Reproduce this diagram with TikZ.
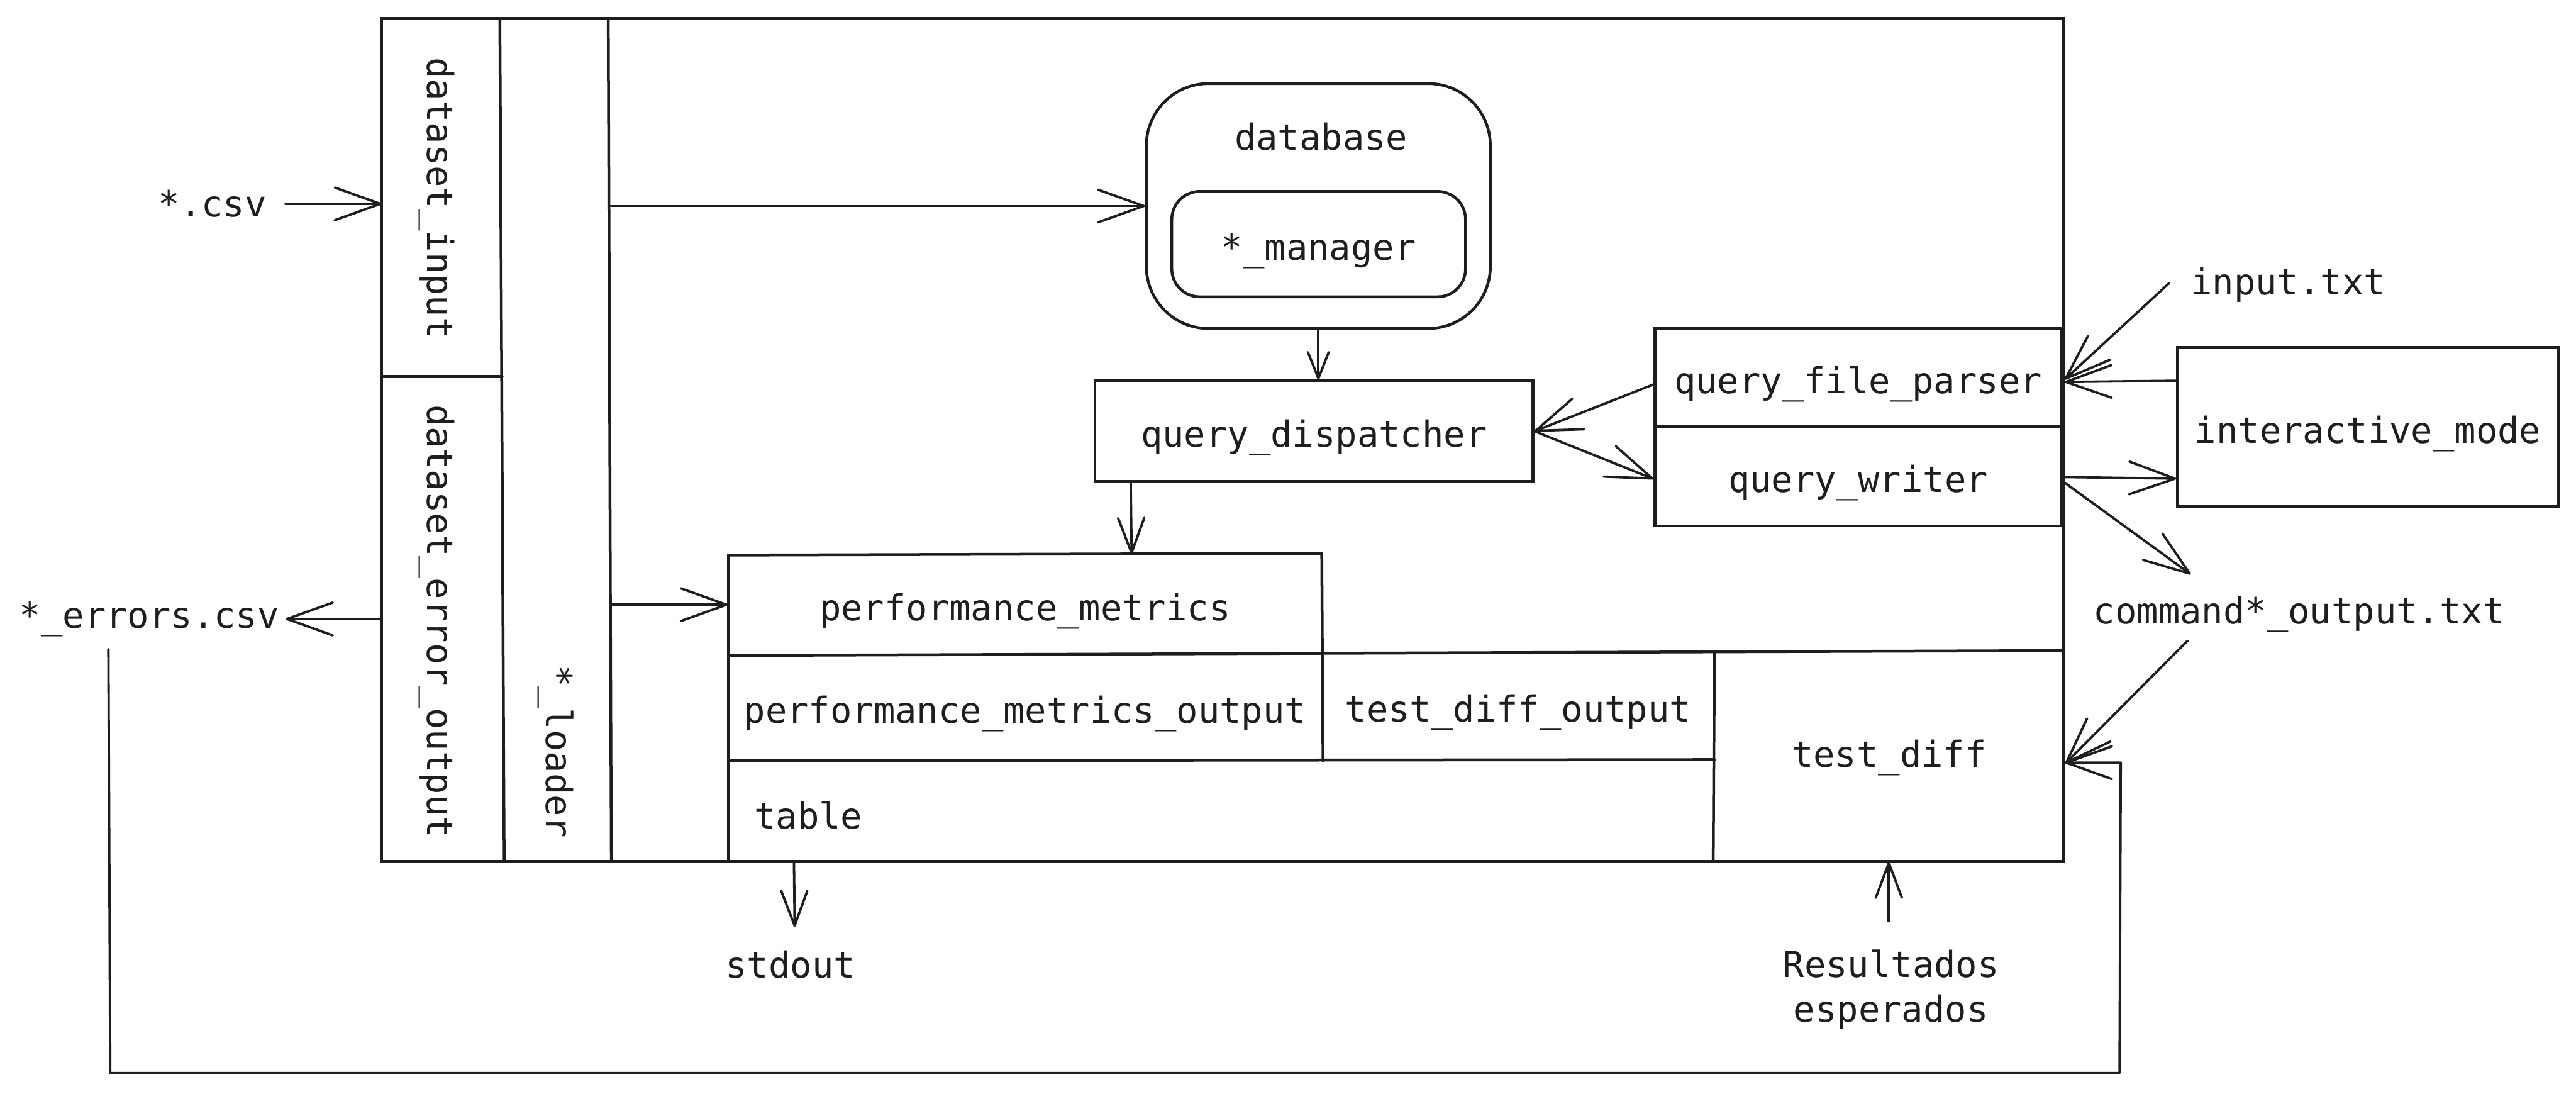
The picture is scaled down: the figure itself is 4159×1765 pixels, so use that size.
\documentclass[tikz,border=0pt]{standalone}
\usepackage{fontspec}
\setmonofont{DejaVu Sans Mono}
\usetikzlibrary{arrows.meta,calc}
\definecolor{ink}{HTML}{1E1E1E}
\begin{document}
\begin{tikzpicture}[x=0.01cm,y=-0.01cm,
  every node/.style={font=\ttfamily\fontsize{16.5}{20.5}\selectfont, text=ink, inner sep=0pt},
  bt/.style={text height=16.5pt, text depth=2pt},
  box/.style={draw=ink, line width=1.3pt},
  ln/.style={draw=ink, line width=1.3pt, line cap=round},
  arr/.style={draw=ink, line width=1.1pt, line cap=round, line join=round, -{Straight Barb[round,length=21pt,width=15pt]}},
  marr/.style={draw=ink, line width=1.1pt, line cap=round, -{Straight Barb[round,length=16pt,width=12pt]}},
  sarr/.style={draw=ink, line width=1.1pt, line cap=round, -{Straight Barb[round,length=12pt,width=9.5pt]}},
]
\fill[white] (0,0) rectangle (4159,1765);
\useasboundingbox (0,0) rectangle (4159,1765);

% main container
\node[box, minimum width=27.14cm, minimum height=13.60cm] (main) at (1974,710) {};
% left columns
\node[minimum width=1.93cm, minimum height=5.77cm] (din) at (713.5,318.5) {};
\node[minimum width=1.93cm, minimum height=7.83cm] (deo) at (713.5,998.5) {};
\node[minimum width=1.75cm, minimum height=13.60cm] (ldr) at (897.5,710) {};
\node[rotate=-90] (dint) at (705,320) {dataset\_input};
\node[rotate=-90] (deot) at (705,1003) {dataset\_error\_output};
\node[rotate=-90] (ldrt) at (897,1213) {*\_loader};
\draw[ln] (din.south west) -- (din.south east);
\draw[ln] (807,30) -- (814,1390);
\draw[ln] (982,30) -- (987,1390);

% database
\node[box, rounded corners=1cm, minimum width=5.55cm, minimum height=3.95cm] (db) at (2128.5,332.5) {};
\node (dbt) at (2133,221) {database};
\node[box, bt, rounded corners=0.45cm, minimum width=4.74cm, minimum height=1.70cm] (mgr) at (2129,394) {*\_manager};

% dispatcher, parser, writer
\node[box, bt, minimum width=7.07cm, minimum height=1.62cm] (qd) at (2121.5,696) {query\_dispatcher};
\node[box, bt, minimum width=6.56cm, minimum height=1.59cm] (qfp) at (3000,609.5) {query\_file\_parser};
\node[box, bt, minimum width=6.56cm, minimum height=1.60cm] (qw) at (3000,769) {query\_writer};
\node[box, bt, minimum width=6.14cm, minimum height=2.57cm] (im) at (3823,689.5) {interactive\_mode};

% outside labels
\node (inp) at (3694,460) {input.txt};
\node (cmd) at (3712,992) {command*\_output.txt};
\node (csv) at (343,329) {*.csv};
\node (err) at (241,999) {*\_errors.csv};
\node (out) at (1276,1557) {stdout};
\node[align=center] (res) at (3053,1597) {Resultados\\esperados};

% lower compartments
\node[bt, minimum width=9.58cm, minimum height=1.62cm] (pm) at (1655,976) {performance\_metrics};
\node[bt, minimum width=9.58cm, minimum height=1.71cm] (pmo) at (1655,1142) {performance\_metrics\_output};
\node[bt, minimum width=6.34cm, minimum height=1.76cm] (tdo) at (2451,1140) {test\_diff\_output};
\node[minimum width=5.63cm, minimum height=3.40cm] (td) at (3049.5,1220) {};
\node (tdt) at (3050,1223) {test\_diff};
\node[minimum width=15.92cm, minimum height=1.62cm] (tbl) at (1972,1309) {};
\node[anchor=west] (tblt) at (1217,1316) {table};

\draw[ln] (1176,896) -- (2134,893) -- (2136,1228);
\draw[ln] (1176,896) -- (1176,1390);
\draw[ln] (1176,1058) -- (3331,1050);
\draw[ln] (1176,1228) -- (2768,1226);
\draw[ln] (2768,1052) -- (2766,1390);

% connectors
\draw[arr] ([xshift=0.3cm]csv.east) -- (din.west |- csv.east);
\draw[arr] (deo.west |- err.east) -- ([xshift=0.1cm]err.east);
\draw[arr] (ldr.east |- db.west) -- (db.west);
\draw[arr] (ldr.east |- pm.west) -- (pm.west);
\coordinate (loop0) at (175,1048);
\draw[arr] (loop0) -- (178,1732) -- (3422,1732) -- (3424,1231) -- ($(td.east)+(2,11)$);
\draw[sarr] (db.south) -- (db.south |- qd.north);
\draw[marr] ($(qd.south west)+(60,0)$) -- ($(pm.north west)+(652,0)$);
\draw[arr] ($(qfp.west)+(0,11)$) -- (qd.east);
\draw[arr] (qd.east) -- ($(qw.west)+(0,4)$);
\draw[arr] ($(inp.west)+(-34,-3)$) -- ($(qfp.east)+(3,3)$);
\draw[arr] ($(im.west)+(0,-75)$) -- ($(qfp.east)+(3,7)$);
\draw[arr] ($(qw.east)+(3,1)$) -- ($(im.west)+(0,83)$);
\draw[arr] ($(qw.east)+(3,10)$) -- ($(cmd)+(-175,-65)$);
\draw[arr] ($(cmd)+(-180,42)$) -- ($(td.east)+(3,12)$);
\draw[marr] ($(tbl.south west)+(107,0)$) -- ($(out)+(7,-61)$);
\draw[marr] ($(res.center -| td.south)+(0,-110)$) -- (td.south);
\end{tikzpicture}
\end{document}
